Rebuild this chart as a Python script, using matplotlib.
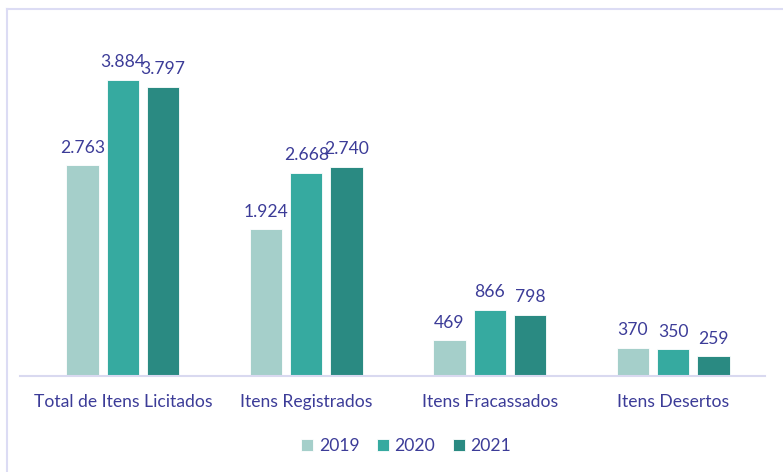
import matplotlib
matplotlib.use("Agg")
import matplotlib.pyplot as plt
import numpy as np
from matplotlib.lines import Line2D

categories = ["Total de Itens Licitados", "Itens Registrados",
              "Itens Fracassados", "Itens Desertos"]
years = ["2019", "2020", "2021"]
v2019 = [2763, 1924, 469, 370]
v2020 = [3884, 2668, 866, 350]
v2021 = [3797, 2740, 798, 259]
series = [v2019, v2020, v2021]

colors = ["#a5cfca", "#36aaa0", "#2a8a82"]
text_c = "#3c3c98"

plt.rcParams["font.family"] = ["Lato", "DejaVu Sans"]

W, H = 783, 472
fig = plt.figure(figsize=(W / 100, H / 100), dpi=100)
ax = fig.add_axes([31 / W, 1 - 376 / H, (765 - 31) / W, (376 - 30) / H])

x = np.arange(len(categories))
width = 0.177
step = 0.22
fs = 12.6
for i, (vals, col, yr) in enumerate(zip(series, colors, years)):
    bars = ax.bar(x + (i - 1) * step, vals, width, color=col, label=yr,
                  edgecolor="white", linewidth=0.6)
    for b, v in zip(bars, vals):
        lbl = f"{v:,}".replace(",", ".")
        ax.annotate(lbl, (b.get_x() + b.get_width() / 2, v),
                    xytext=(0, 7), textcoords="offset points",
                    ha="center", va="bottom", fontsize=fs, color=text_c)

ax.set_xlim(-0.5, len(categories) - 0.5)
ymax = 3884 * (376 - 30) / (376 - 80)
ax.set_ylim(0, ymax)
ax.set_yticks([])
ax.set_xticks(x)
ax.set_xticklabels(categories, fontsize=fs, color=text_c)
ax.tick_params(axis="x", length=0, pad=13)
for sp in ("top", "right", "left", "bottom"):
    ax.spines[sp].set_visible(False)
ax.axhline(0, xmin=-0.015, xmax=1.0, color="#d9d9f0", lw=1.5, clip_on=False)

# outer chart-area border (only left and top visible)
fig.add_artist(Line2D([6.5 / W, 6.5 / W], [0, 1 - 8.5 / H],
                      transform=fig.transFigure, color="#dcdcf4", lw=1.5))
fig.add_artist(Line2D([6.5 / W, 1], [1 - 8.5 / H, 1 - 8.5 / H],
                      transform=fig.transFigure, color="#dcdcf4", lw=1.5))

leg = fig.legend(loc="center", bbox_to_anchor=(406 / W, 1 - 446 / H),
                 ncol=3, frameon=False, fontsize=fs, handlelength=0.7,
                 handleheight=0.7, handletextpad=0.3, columnspacing=1.0)
for t in leg.get_texts():
    t.set_color(text_c)

fig.savefig("out.png", dpi=100)
